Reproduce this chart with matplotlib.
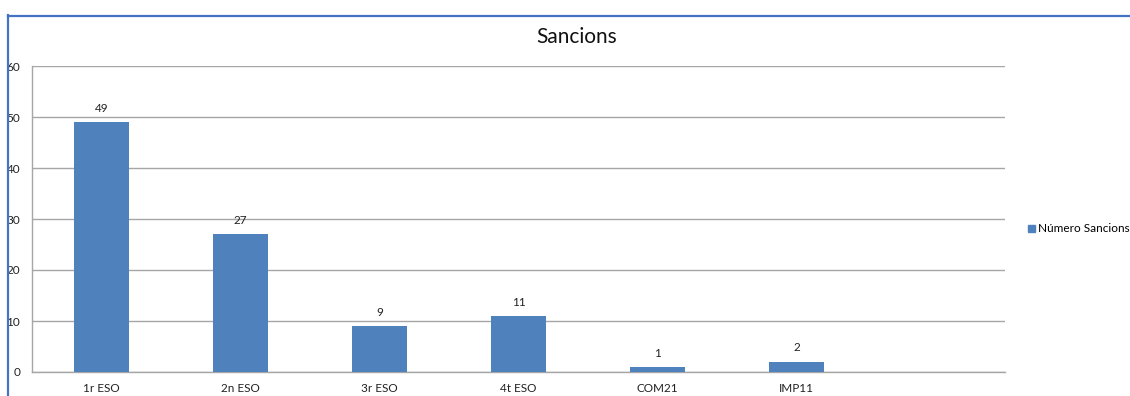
import matplotlib
matplotlib.use("Agg")
import matplotlib.pyplot as plt
from matplotlib.patches import Rectangle
from matplotlib.lines import Line2D

categories = ["1r ESO", "2n ESO", "3r ESO", "4t ESO", "COM21", "IMP11", ""]
values = [49, 27, 9, 11, 1, 2, None]
series_name = "Número Sancions"
title = "Sancions"
yticks = [0, 10, 20, 30, 40, 50, 60]

plt.rcParams['font.family'] = ['Lato', 'DejaVu Sans']

W, H = 1130, 396
fig = plt.figure(figsize=(W / 100, H / 100), dpi=100)
ax = fig.add_axes([32 / W, 24 / H, (1005 - 32) / W, (372 - 66) / H])

bar_color = "#4F81BD"
xs = [i for i, v in enumerate(values) if v is not None]
vs = [v for v in values if v is not None]
bars = ax.bar(xs, vs, width=0.40, color=bar_color, label=series_name, zorder=3)
for x, v in zip(xs, vs):
    ax.annotate(str(v), (x, v), xytext=(0, 6), textcoords="offset points",
                ha="center", va="bottom", fontsize=8.5, color="#222222")

ax.set_xlim(-0.5, len(categories) - 0.5)
ax.set_ylim(0, 60)
ax.set_yticks(yticks)
ax.set_xticks(range(len(categories)))
ax.set_xticklabels(categories)
ax.tick_params(axis="both", length=0, labelsize=8.5, colors="#222222")
ax.tick_params(axis="y", pad=8.5)
ax.tick_params(axis="x", pad=8)
ax.grid(axis="y", color="#A6A6A6", linewidth=1.0, zorder=0)
for s in ["top", "right"]:
    ax.spines[s].set_visible(False)
for s in ["left", "bottom"]:
    ax.spines[s].set_color("#A6A6A6")
    ax.spines[s].set_linewidth(1.0)

fig.text(577 / W, 1 - 37 / H, title, ha="center", va="center", fontsize=15, color="#111111")

fig.legend(handles=[Rectangle((0, 0), 1, 1, color=bar_color)], labels=[series_name],
           loc="center left", bbox_to_anchor=(1023 / W, 1 - 229 / H), frameon=False,
           fontsize=8.5, handlelength=0.6, handleheight=0.6, handletextpad=0.3,
           borderaxespad=0)

# blue chart border (top and left), covering the cut-off area on the left
fig.patches.append(Rectangle((0, 0), 8 / W, 1, transform=fig.transFigure,
                             facecolor="white", edgecolor="none", zorder=10))
fig.patches.append(Rectangle((0, 1 - 15 / H), 1, 15 / H, transform=fig.transFigure,
                             facecolor="white", edgecolor="none", zorder=10))
fig.lines.append(Line2D([7.5 / W, 7.5 / W], [0, 1 - 15 / H], transform=fig.transFigure,
                        color="#4472C4", linewidth=1.6, zorder=11))
fig.lines.append(Line2D([7.5 / W, 1], [1 - 15.5 / H, 1 - 15.5 / H], transform=fig.transFigure,
                        color="#4472C4", linewidth=1.6, zorder=11))

fig.savefig("out.png", dpi=100)
